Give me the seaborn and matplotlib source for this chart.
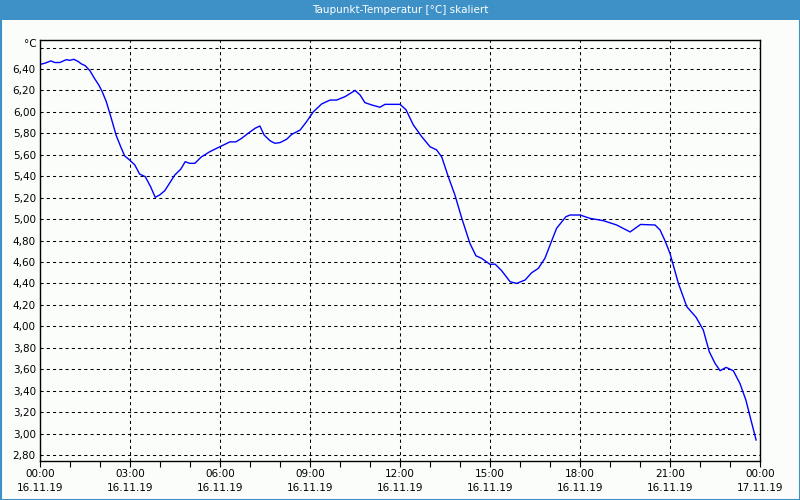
import matplotlib
matplotlib.use("Agg")
import matplotlib.pyplot as plt
from matplotlib.patches import Rectangle
from matplotlib.ticker import MultipleLocator, FixedLocator
import seaborn as sns
import pandas as pd

title = "Taupunkt-Temperatur [°C] skaliert"
unit_label = "°C"

hours = [0.02, 0.16, 0.36, 0.49, 0.66, 0.88, 0.99, 1.13, 1.27, 1.38, 1.51, 1.66,
         1.82, 1.96, 2.07, 2.21, 2.36, 2.54, 2.69, 2.82, 2.99, 3.16, 3.32, 3.51,
         3.69, 3.84, 3.99, 4.16, 4.32, 4.49, 4.69, 4.84, 4.99, 5.16, 5.38, 5.67,
         6.0, 6.33, 6.53, 6.72, 6.94, 7.17, 7.33, 7.47, 7.67, 7.83, 8.0, 8.22,
         8.39, 8.67, 8.89, 9.11, 9.39, 9.67, 9.89, 10.17, 10.39, 10.5, 10.67,
         10.83, 11.06, 11.33, 11.5, 12.0, 12.2, 12.44, 12.72, 13.0, 13.22, 13.39,
         13.61, 13.83, 14.06, 14.33, 14.53, 14.72, 15.0, 15.17, 15.39, 15.67,
         15.89, 16.17, 16.39, 16.61, 16.83, 17.06, 17.22, 17.53, 17.67, 18.0,
         18.33, 18.78, 19.22, 19.67, 20.02, 20.5, 20.67, 20.83, 21.0, 21.28,
         21.56, 21.87, 22.11, 22.31, 22.5, 22.67, 22.87, 23.11, 23.33, 23.53,
         23.67, 23.87]
values = [6.444, 6.453, 6.475, 6.46, 6.46, 6.487, 6.48, 6.49, 6.47, 6.447, 6.43, 6.385,
          6.31, 6.25, 6.19, 6.095, 5.955, 5.78, 5.675, 5.59, 5.55, 5.505, 5.42, 5.395,
          5.30, 5.203, 5.225, 5.265, 5.335, 5.41, 5.465, 5.535, 5.52, 5.52, 5.58, 5.63,
          5.675, 5.72, 5.72, 5.753, 5.80, 5.847, 5.868, 5.784, 5.73, 5.707, 5.713, 5.744,
          5.79, 5.83, 5.91, 6.00, 6.074, 6.11, 6.11, 6.142, 6.18, 6.20, 6.157,
          6.086, 6.064, 6.043, 6.07, 6.07, 6.02, 5.88, 5.77, 5.675, 5.645, 5.58,
          5.395, 5.225, 5.007, 4.774, 4.658, 4.634, 4.578, 4.58, 4.518, 4.416,
          4.40, 4.432, 4.50, 4.54, 4.634, 4.80, 4.914, 5.022, 5.038, 5.038,
          5.007, 4.985, 4.945, 4.88, 4.95, 4.945, 4.898, 4.80, 4.68, 4.40,
          4.183, 4.084, 3.965, 3.763, 3.655, 3.586, 3.617, 3.586, 3.468, 3.312,
          3.157, 2.94]

x_tick_hours = [0, 3, 6, 9, 12, 15, 18, 21, 24]
x_tick_times = ["00:00", "03:00", "06:00", "09:00", "12:00", "15:00", "18:00", "21:00", "00:00"]
x_tick_dates = ["16.11.19"] * 8 + ["17.11.19"]
y_ticks = [2.8, 3.0, 3.2, 3.4, 3.6, 3.8, 4.0, 4.2, 4.4, 4.6, 4.8, 5.0, 5.2, 5.4,
           5.6, 5.8, 6.0, 6.2, 6.4, 6.6]

df = pd.DataFrame({"h": hours, "v": values})

bg = "#fbfdfb"
blue_bar = "#3d91c7"

fig = plt.figure(figsize=(8, 5), dpi=100, facecolor=bg)
ax = fig.add_axes([40 / 800, 39 / 500, 720 / 800, 421 / 500])
ax.set_facecolor(bg)

sns.lineplot(data=df, x="h", y="v", ax=ax, color="#0000ff", linewidth=1.0)

ax.set_xlim(0, 24)
ax.set_ylim(2.744, 6.67)

ax.xaxis.set_major_locator(FixedLocator(x_tick_hours))
ax.set_xticklabels([f"{t}\n{d}" for t, d in zip(x_tick_times, x_tick_dates)],
                   fontsize=7.5, linespacing=1.55)
ax.xaxis.set_minor_locator(MultipleLocator(1))
ax.tick_params(axis="x", which="both", direction="out", length=4, width=0.8,
               color="black", pad=1.5)

ax.yaxis.set_major_locator(FixedLocator(y_ticks))
ax.set_yticklabels([("" if abs(t - 6.6) < 1e-6 else f"{t:.2f}".replace(".", ","))
                    for t in y_ticks], fontsize=7.5)
ax.tick_params(axis="y", length=0, pad=3)

ax.grid(True, which="major", color="black", linestyle=(0, (3, 3)), linewidth=0.75)
ax.set_axisbelow(True)
for s in ax.spines.values():
    s.set_color("black")
    s.set_linewidth(1.0)

ax.set_xlabel("")
ax.set_ylabel("")

fig.text(37 / 800, 1 - 44 / 500, unit_label, ha="right", va="center", fontsize=7.5)

# title bar
fig.add_artist(Rectangle((0, 1 - 20 / 500), 1, 20 / 500, transform=fig.transFigure,
                         facecolor=blue_bar, edgecolor="none", zorder=0))
fig.text(0.5, 1 - 10 / 500, title, ha="center", va="center", color="white",
         fontsize=7.5)
# outer border
fig.add_artist(Rectangle((0.5 / 800, 0.5 / 500), 799 / 800, 499 / 500,
                         transform=fig.transFigure, facecolor="none",
                         edgecolor=blue_bar, linewidth=1.5, zorder=5))

fig.savefig("out.png", dpi=100, facecolor=bg)
